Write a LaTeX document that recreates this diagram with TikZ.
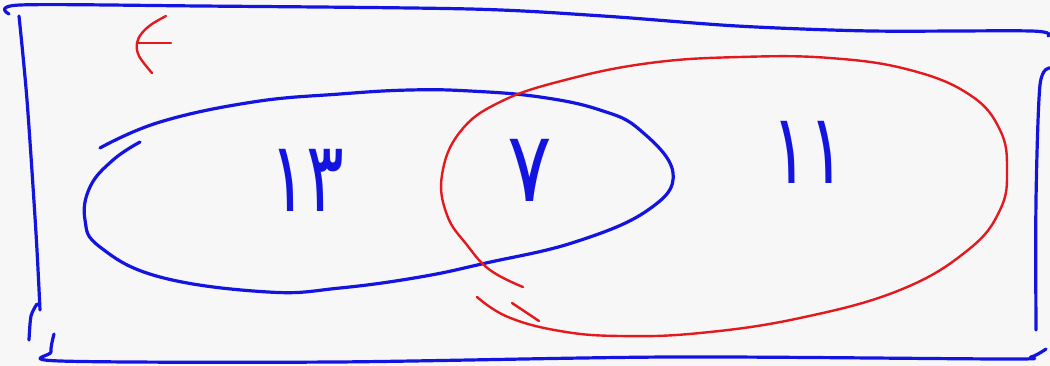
\documentclass[tikz,border=0pt]{standalone}
\usepackage{fontspec}
\usepackage{graphicx}
\newfontfamily\arabicfont[Script=Arabic]{DejaVu Sans}
\definecolor{penblue}{RGB}{20,20,225}
\definecolor{penred}{RGB}{228,25,30}
\definecolor{paper}{RGB}{247,247,247}
\tikzset{
  bluepen/.style={draw=penblue,line width=3.2pt,line cap=round,line join=round},
  redpen/.style={draw=penred,line width=2.4pt,line cap=round,line join=round},
  numlabel/.style={text=penblue,font=\arabicfont\fontsize{98}{100}\selectfont,inner sep=0pt}
}
\begin{document}
\begin{tikzpicture}[x=1pt,y=-1pt]
\fill[paper] (0,0) rectangle (1050,366);
\useasboundingbox (0,0) rectangle (1050,366);
% outer frame (universal set)
\draw[bluepen] plot[smooth,tension=0.5] coordinates {(9,14) (20,5) (200,6) (470,9) (603,16) (737,26) (871,31) (1031,31) (1048,36)};
\draw[bluepen] plot[smooth,tension=0.5] coordinates {(19,16) (27,100) (36,233) (40,310)};
\draw[bluepen] plot[smooth,tension=0.5] coordinates {(37,304) (31,316) (29,340)};
\draw[bluepen] plot[smooth,tension=0.5] coordinates {(54,334) (51,352) (60,361) (335,362) (670,357) (1005,359) (1031,357) (1046,349)};
\draw[bluepen] plot[smooth,tension=0.5] coordinates {(1050,68) (1040,85) (1036,200) (1036,330)};
% blue set
\draw[bluepen] plot[smooth,tension=0.7] coordinates {(140,142) (113,160) (90,187) (85,220) (100,247) (160,277) (268,292) (340,288) (420,277) (486,263) (575,242) (648,210) (673,173) (640,130) (600,110) (540,97) (470,91) (410,90) (340,94) (253,102) (160,122) (100,148)};
% red set
\draw[redpen] plot[smooth,tension=0.7] coordinates {(477,297) (508,317) (560,331) (620,336) (700,333) (800,318) (900,290) (968,250) (1000,210) (1007,170) (1000,130) (970,95) (910,70) (830,58) (740,57) (650,63) (565,80) (500,102) (460,132) (442,175) (447,215) (467,245) (490,270) (523,287)};
\draw[redpen] (512,303) -- (539,321);
% red label of the universal set
\draw[redpen] plot[smooth,tension=0.6] coordinates {(166,16) (152,24) (142,33) (137,43) (139,56) (152,73)};
\draw[redpen] (138,43) -- (171,43);
% numbers
\node[numlabel] (a) at (307,180) {\scalebox{0.72}[1]{۱۳}};
\node[numlabel] (b) at (530,170) {\scalebox{0.85}[1]{۷}};
\node[numlabel] (c) at (808,152) {\scalebox{0.7}[1]{۱۱}};
\end{tikzpicture}
\end{document}
